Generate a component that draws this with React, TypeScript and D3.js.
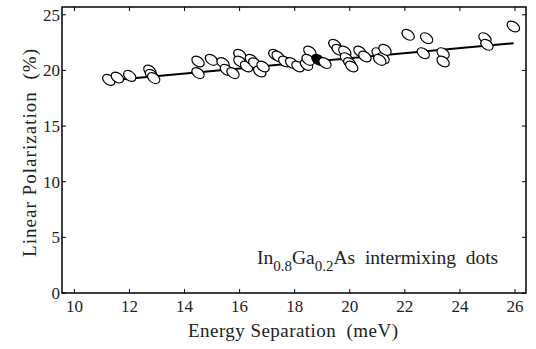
import React, { useEffect, useRef } from "react";
import * as d3 from "d3";

// energy separation (meV)
const energy = [
  11.25, 11.56, 12.01, 12.74, 12.8, 12.88, 14.49, 14.49, 14.98, 15.4, 15.52,
  15.76, 16.01, 16.01, 16.25, 16.43, 16.55, 16.73, 16.85, 17.28, 17.4, 17.64,
  17.89, 18.12, 18.43, 18.55, 18.49, 18.85, 19.1, 19.46, 19.58, 19.82, 19.88,
  20.0, 20.07, 20.37, 20.55, 21.03, 21.21, 21.28, 21.09, 22.12, 22.79, 22.67,
  23.39, 23.39, 24.91, 24.98, 25.94,
];
// linear polarization (%)
const polarization = [
  19.15, 19.36, 19.51, 19.99, 19.6, 19.31, 20.8, 19.76, 20.95, 20.66, 20.05,
  19.76, 21.4, 20.8, 20.35, 20.95, 20.65, 19.9, 20.35, 21.4, 21.25, 20.8,
  20.66, 20.35, 20.5, 21.7, 20.95, 20.95, 20.66, 22.3, 21.85, 21.7, 21.1,
  20.66, 20.35, 21.7, 21.25, 21.55, 21.1, 21.85, 20.95, 23.2, 22.9, 21.55,
  21.55, 20.8, 22.9, 22.3, 23.95,
];
// the one filled marker
const highlighted = [27];

// linear fit end points
const fitX = [11.25, 25.95];
const fitY = [19.1, 22.45];

const xTicks = [10, 12, 14, 16, 18, 20, 22, 24, 26];
const yTicks = [0, 5, 10, 15, 20, 25];

const App = () => {
  const ref = useRef<SVGSVGElement>(null);

  useEffect(() => {
    const svg = d3.select(ref.current);
    svg.selectAll("*").remove();

    const left = 62,
      right = 526,
      top = 7,
      bottom = 293;
    const font = "Liberation Serif, Times New Roman, serif";

    const x = d3.scaleLinear().domain([9.55, 26.4]).range([left, right]);
    const y = d3.scaleLinear().domain([0, 25.7]).range([bottom, top]);

    // ticks pointing inward on all four sides
    const tk = 4;
    const g = svg.append("g").attr("stroke", "#000").attr("stroke-width", 1);
    xTicks.forEach((t) => {
      g.append("line").attr("x1", x(t)).attr("x2", x(t)).attr("y1", bottom).attr("y2", bottom - tk);
      g.append("line").attr("x1", x(t)).attr("x2", x(t)).attr("y1", top).attr("y2", top + tk);
    });
    yTicks.forEach((t) => {
      g.append("line").attr("x1", left).attr("x2", left + tk).attr("y1", y(t)).attr("y2", y(t));
      g.append("line").attr("x1", right).attr("x2", right - tk).attr("y1", y(t)).attr("y2", y(t));
    });

    svg
      .append("g")
      .selectAll("text")
      .data(xTicks)
      .join("text")
      .attr("x", (d) => x(d))
      .attr("y", bottom + 19)
      .attr("text-anchor", "middle")
      .attr("font-family", font)
      .attr("font-size", 17)
      .attr("fill", "#222")
      .text((d) => d);

    svg
      .append("g")
      .selectAll("text")
      .data(yTicks)
      .join("text")
      .attr("x", left - 2)
      .attr("y", (d) => y(d) + 6)
      .attr("text-anchor", "end")
      .attr("font-family", font)
      .attr("font-size", 17)
      .attr("fill", "#222")
      .text((d) => d);

    // fit line
    svg
      .append("path")
      .datum(fitX.map((v, i) => [v, fitY[i]] as [number, number]))
      .attr("fill", "none")
      .attr("stroke", "#000")
      .attr("stroke-width", 2)
      .attr(
        "d",
        d3
          .line<[number, number]>()
          .x((d) => x(d[0]))
          .y((d) => y(d[1]))
      );

    // markers
    svg
      .append("g")
      .selectAll("ellipse")
      .data(energy.map((e, i) => ({ e, p: polarization[i], i })))
      .join("ellipse")
      .attr("cx", 0)
      .attr("cy", 0)
      .attr("rx", 6.8)
      .attr("ry", 4.6)
      .attr("transform", (d) => `translate(${x(d.e)},${y(d.p)}) rotate(35)`)
      .attr("fill", (d) => (highlighted.includes(d.i) ? "#000" : "#fff"))
      .attr("stroke", "#000")
      .attr("stroke-width", 1.2);

    // frame
    svg
      .append("rect")
      .attr("x", left)
      .attr("y", top)
      .attr("width", right - left)
      .attr("height", bottom - top)
      .attr("fill", "none")
      .attr("stroke", "#000")
      .attr("stroke-width", 1.5);

    // axis titles
    svg
      .append("text")
      .attr("x", 293)
      .attr("y", 337)
      .attr("text-anchor", "middle")
      .attr("font-family", font)
      .attr("font-size", 19)
      .attr("fill", "#222")
      .attr("xml:space", "preserve")
      .attr("textLength", 210)
      .attr("lengthAdjust", "spacing")
      .text("Energy Separation  (meV)");

    svg
      .append("text")
      .attr("transform", `translate(36,153) rotate(-90)`)
      .attr("text-anchor", "middle")
      .attr("font-family", font)
      .attr("font-size", 19)
      .attr("fill", "#222")
      .attr("xml:space", "preserve")
      .attr("textLength", 208)
      .attr("lengthAdjust", "spacing")
      .text("Linear Polarization  (%)");

    // label
    const lbl = svg
      .append("text")
      .attr("x", 257)
      .attr("y", 264)
      .attr("font-family", font)
      .attr("font-size", 19.5)
      .attr("fill", "#222")
      .attr("xml:space", "preserve");
    lbl.append("tspan").text("In");
    lbl.append("tspan").attr("dy", 7).attr("font-size", 15).text("0.8");
    lbl.append("tspan").attr("dy", -7).text("Ga");
    lbl.append("tspan").attr("dy", 7).attr("font-size", 15).text("0.2");
    lbl.append("tspan").attr("dy", -7).text("As  intermixing  dots");
  });

  return (
    <svg
      ref={ref}
      width={536}
      height={349}
      style={{ position: "absolute", left: 0, top: 0, background: "#fff" }}
    />
  );
};

export default App;
